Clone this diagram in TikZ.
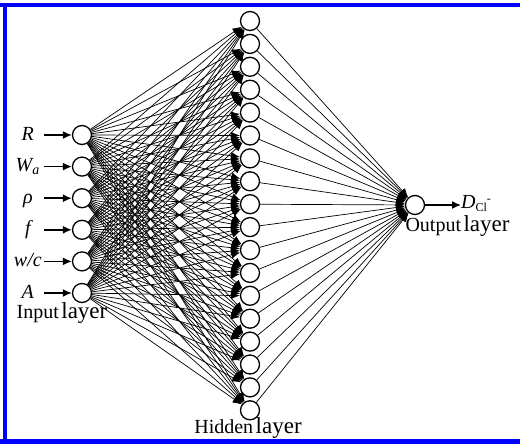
\documentclass[tikz,border=0pt]{standalone}
\usepackage{fontspec}
\setmainfont{Liberation Serif}
\usetikzlibrary{arrows.meta}

\tikzset{
  neuron/.style={draw,circle,line width=1.3pt,minimum size=19pt,inner sep=0pt,fill=white},
  syn/.style={line width=0.7pt,-{Latex[length=9pt,width=7.5pt]}},
  inarrow/.style={line width=1.5pt,-{Latex[length=9pt,width=8pt]}},
  lbl/.style={font=\fontsize{20}{22}\selectfont\itshape,inner sep=0pt,text height=13pt,text depth=3pt},
}
\newcommand{\layername}[1]{{\fontsize{20}{22}\selectfont #1} {\fontsize{23}{25}\selectfont layer}}

\begin{document}
\begin{tikzpicture}[x=1pt,y=-1pt]
  \useasboundingbox (0,0) rectangle (520,444);
  % blue frame (top, left, bottom)
  \fill[blue] (0,2.7) rectangle (520,7.3);
  \fill[blue] (2.7,2.7) rectangle (7.3,444);
  \fill[blue] (0,439.3) rectangle (520,444);
  % input layer
  \foreach \i/\t in {1/R,2/{W\textsubscript{a}},3/ρ,4/f,5/{w/c},6/A}{
    \pgfmathsetmacro\yy{135+31.6*(\i-1)}
    \node[neuron] (i\i) at (82,\yy) {};
    \node[lbl,anchor=east,minimum width=32pt] (l\i) at (44,\yy) {\t};
    \draw[inarrow] (l\i) -- (i\i);
  }
  % hidden layer
  \foreach \j in {1,...,18}{
    \pgfmathsetmacro\yy{21+22.9*(\j-1)}
    \node[neuron] (h\j) at (250,\yy) {};
  }
  % output layer
  \node[neuron] (o) at (415,205) {};
  \node[lbl,anchor=west,text depth=1pt] (dcl) at (461,202) {D{\upshape\fontsize{12}{12}\selectfont\raisebox{-3.5pt}{Cl}\raisebox{6pt}{-}}};
  \draw[inarrow] (o) -- (o -| dcl.west);
  % connections
  \foreach \i in {1,...,6}
    \foreach \j in {1,...,18}
      \draw[syn] (i\i) -- (h\j);
  \foreach \j in {1,...,18}
    \draw[syn] (h\j) -- (o);
  % layer names
  \node[anchor=base] (inname) at (62,318) {\layername{Input}};
  \node[anchor=base] (hidname) at (248,433) {\layername{Hidden}};
  \node[anchor=base west] (outname) at (402,231) {\layername{Output}};
\end{tikzpicture}
\end{document}
